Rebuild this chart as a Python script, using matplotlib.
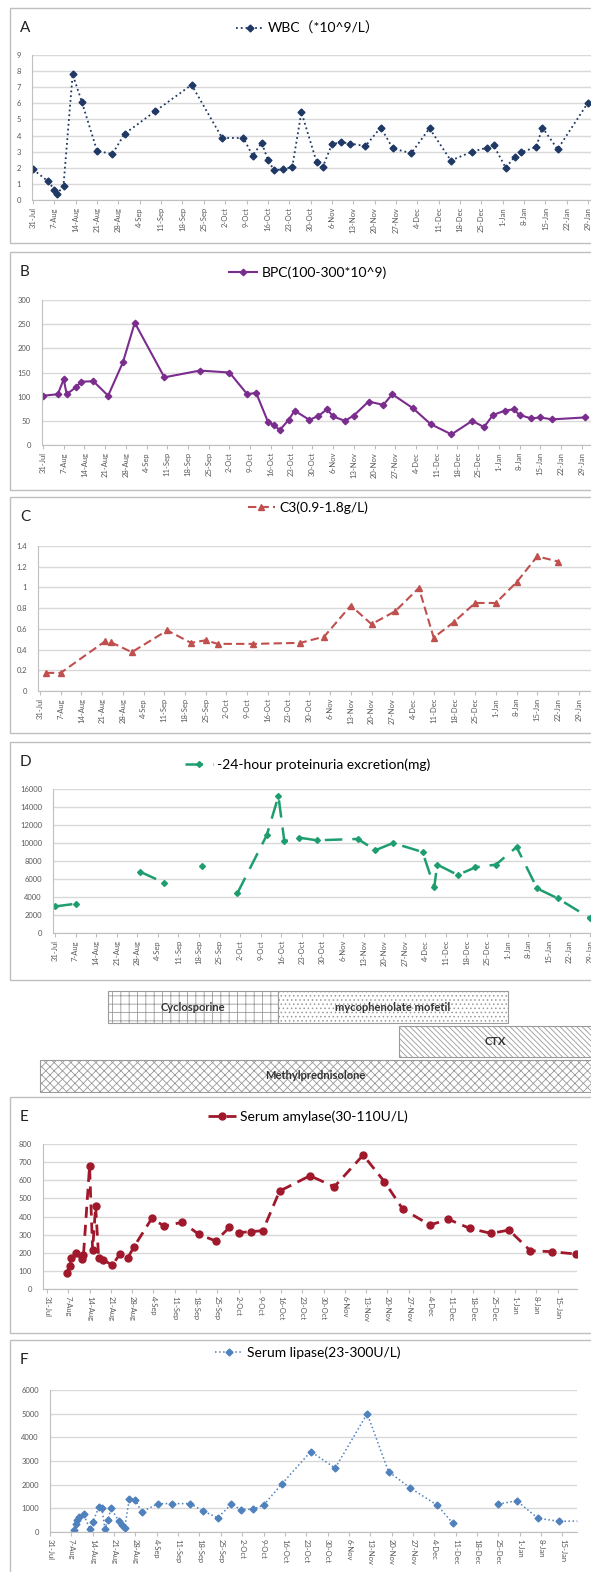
import numpy as np
import matplotlib
matplotlib.use("Agg")
import matplotlib.pyplot as plt
from matplotlib.patches import Rectangle
from matplotlib.ticker import MultipleLocator, FuncFormatter

plt.rcParams['font.family'] = ['Lato', 'Noto Sans CJK SC', 'DejaVu Sans']
plt.rcParams['hatch.linewidth'] = 0.6

W, H = 591, 1572

# ---- data (x = days since 31-Jul) ----
week_labels = ['31-Jul', '7-Aug', '14-Aug', '21-Aug', '28-Aug', '4-Sep', '11-Sep',
               '18-Sep', '25-Sep', '2-Oct', '9-Oct', '16-Oct', '23-Oct', '30-Oct',
               '6-Nov', '13-Nov', '20-Nov', '27-Nov', '4-Dec', '11-Dec', '18-Dec',
               '25-Dec', '1-Jan', '8-Jan', '15-Jan', '22-Jan', '29-Jan']

wbc_day = [0, 5, 7, 8, 10, 13, 16, 21, 26, 30, 40, 52, 62, 69, 72, 75, 77, 79, 82, 85,
           88, 93, 95, 98, 101, 104, 109, 114, 118, 124, 130, 137, 144, 149, 151, 155,
           158, 160, 165, 167, 172, 182]
wbc_val = [1.9, 1.15, 0.65, 0.38, 0.9, 7.8, 6.1, 3.05, 2.85, 4.1, 5.5, 7.15, 3.85, 3.85,
           2.75, 3.55, 2.5, 1.85, 1.9, 2.05, 5.45, 2.35, 2.05, 3.45, 3.6, 3.5, 3.35, 4.5,
           3.2, 2.9, 4.45, 2.45, 3.0, 3.25, 3.4, 2.0, 2.7, 2.95, 3.3, 4.5, 3.15, 6.05]

bpc_day = [0, 5, 7, 8, 11, 13, 17, 22, 27, 31, 41, 53, 63, 69, 72, 76, 78, 80, 83, 85,
           90, 93, 96, 98, 102, 105, 110, 115, 118, 125, 131, 138, 145, 149, 152, 156,
           159, 161, 165, 168, 172, 183]
bpc_val = [102, 105, 136, 105, 119, 131, 132, 102, 171, 253, 140, 154, 150, 105, 108, 48,
           41, 31, 52, 71, 52, 60, 74, 59, 50, 61, 90, 83, 105, 76, 43, 22, 50, 37, 62,
           71, 74, 62, 55, 57, 53, 57]

c3_day = [2, 7, 22, 24, 31, 43, 51, 56, 60, 72, 88, 96, 105, 112, 120, 128, 133, 140,
          147, 154, 161, 168, 175]
c3_val = [0.175, 0.175, 0.48, 0.47, 0.375, 0.585, 0.465, 0.49, 0.455, 0.455, 0.465,
          0.525, 0.825, 0.645, 0.77, 0.995, 0.515, 0.67, 0.85, 0.85, 1.05, 1.3, 1.25]

prot_day = [0, 7, 18, 29, 37, 44, 50, 56, 62, 72, 76, 78, 83, 89, 103, 109, 115, 125,
            129, 130, 137, 143, 150, 157, 164, 171, 182]
prot_val = [2950, 3250, np.nan, 6800, 5600, np.nan, 7500, np.nan, 4400, 10850, 15200,
            10200, 10600, 10300, 10450, 9200, 10000, 9000, 5100, 7600, 6450, 7300, 7600,
            9550, 4950, 3850, 1650]

amy_day = [6.5, 7.5, 8, 9.5, 11.5, 12, 14, 15, 16, 17, 18.5, 21.5, 24, 26.5, 28.5, 34.5,
           38.5, 44.5, 50, 55.5, 60, 63, 67, 71, 76.5, 86.5, 94.5, 104, 111, 117, 126,
           132, 139, 146, 152, 159, 166, 174]
amy_val = [90, 127, 169, 197, 164, 188, 678, 215, 458, 170, 160, 132, 193, 169, 230, 390,
           347, 368, 301, 265, 340, 311, 316, 322, 540, 625, 564, 739, 592, 441, 353, 385,
           335, 307, 325, 211, 206, 193]

lip_day = [8, 8.5, 9, 9.5, 11, 13, 14, 16, 17, 18, 19, 20, 22.5, 23.5, 24.5, 26, 28, 30,
           35.5, 40, 46, 50, 55, 59.5, 62.5, 66.5, 70, 76, 85.5, 93.5, 104, 111, 118, 127,
           132, 140, 147, 153, 160, 167, 174]
lip_val = [100, 320, 510, 650, 760, 140, 420, 1040, 1000, 140, 510, 1000, 480, 280, 170,
           1400, 1350, 850, 1200, 1200, 1200, 900, 600, 1180, 950, 960, 1130, 2030, 3400,
           2700, 5000, 2550, 1870, 1130, 380, np.nan, 1180, 1320, 580, 450, 470]

drug_names = ['Cyclosporine', 'mycophenolate mofetil', 'CTX', 'Methylprednisolone']
drug_start = [18, 76, 117, -5]
drug_end = [76, 154, 190, 190]
drug_rows = [0, 0, 1, 2]
drug_hatch = ['++', '....', '\\\\\\\\\\\\', 'xxxx']

fig = plt.figure(figsize=(W / 100, H / 100), dpi=100)


def frame(top, bottom, letter):
    fig.add_artist(Rectangle((10 / W, 1 - bottom / H), 1.0, (bottom - top) / H,
                             transform=fig.transFigure, fill=False, ec='#BFBFBF', lw=1))
    fig.text(20 / W, 1 - (top + 20) / H, letter, fontsize=11, va='center', color='#222222')


def make_axes(left, right, top, bottom, day0, ppd, ymax, ystep, nlab, rot):
    ax = fig.add_axes([left / W, 1 - bottom / H, (right - left) / W, (bottom - top) / H])
    ax.set_xlim((left - day0) / ppd, (right - day0) / ppd)
    ax.set_ylim(0, ymax)
    ax.yaxis.set_major_locator(MultipleLocator(ystep))
    ax.yaxis.set_major_formatter(FuncFormatter(lambda v, p: f'{v:g}'))
    ax.set_xticks([7 * i for i in range(nlab)])
    ax.set_xticklabels(week_labels[:nlab], rotation=rot, fontsize=5.5, color='#595959')
    ax.tick_params(axis='y', labelsize=5.5, labelcolor='#595959', length=0, pad=8)
    ax.tick_params(axis='x', length=3, color='#BFBFBF', pad=2)
    ax.grid(axis='y', color='#D9D9D9', lw=1.0)
    ax.set_axisbelow(True)
    ax.spines['top'].set_visible(False)
    ax.spines['right'].set_visible(False)
    ax.spines['left'].set_color('#BFBFBF')
    ax.spines['bottom'].set_color('#BFBFBF')
    return ax


def legend(ax, cy):
    ax.legend(loc='center', bbox_to_anchor=(308 / W, 1 - cy / H),
              bbox_transform=fig.transFigure, frameon=False, fontsize=10,
              handlelength=2.0, handletextpad=0.3)


# A - WBC
frame(8, 243, 'A')
ax = make_axes(32, 591, 55, 200, 33, 3.05, 9, 1, 27, 90)
ax.plot(wbc_day, wbc_val, ls=':', lw=1.3, color='#1F3864', marker='D', ms=3.5,
        label='WBC（*10^9/L）')
legend(ax, 28)

# B - BPC
frame(252, 490, 'B')
ax = make_axes(42, 591, 300, 445, 43, 2.96, 300, 50, 27, 90)
ax.plot(bpc_day, bpc_val, ls='-', lw=1.5, color='#7B2D8E', marker='D', ms=3.3,
        label='BPC(100-300*10^9)')
legend(ax, 273)

# C - C3
frame(497, 733, 'C')
ax = make_axes(38, 591, 546, 691, 40, 2.96, 1.4, 0.2, 27, 90)
ax.plot(c3_day, c3_val, ls=(0, (4, 2)), lw=1.5, color='#C0504D', marker='^', ms=5,
        label='C3(0.9-1.8g/L)')
legend(ax, 508)

# D - proteinuria
frame(742, 980, 'D')
ax = make_axes(53, 591, 789, 933, 55, 2.94, 16000, 2000, 27, 90)
ax.plot(prot_day, prot_val, ls=(0, (7, 4)), lw=1.8, color='#1E9E6E', marker='D', ms=3,
        label='-24-hour proteinuria excretion(mg)')
legend(ax, 765)

# treatment bars
axd = fig.add_axes([0, 1 - 1093 / H, 1, (1093 - 990) / H])
xmin, xmax = (0 - 55) / 2.94, (591 - 55) / 2.94
axd.set_xlim(xmin, xmax)
axd.set_ylim(3, 0)
axd.axis('off')
for name, s, e, r, h in zip(drug_names, drug_start, drug_end, drug_rows, drug_hatch):
    axd.barh(r + 0.5, e - s, left=s, height=0.92, color='white', edgecolor='#9A9A9A',
             hatch=h, lw=0.8)
    axd.text((s + min(e, xmax)) / 2, r + 0.5, name, ha='center', va='center',
             fontsize=8, fontweight='bold', color='#333333')

# E - amylase
frame(1097, 1333, 'E')
ax = make_axes(43, 577, 1144, 1289, 47, 3.04, 800, 100, 25, -90)
ax.plot(amy_day, amy_val, ls=(0, (4, 2.5)), lw=2, color='#A0182B', marker='o', ms=5,
        label='Serum amylase(30-110U/L)')
legend(ax, 1117)

# F - lipase
frame(1340, 1590, 'F')
ax = make_axes(50, 577, 1390, 1532, 50, 3.05, 6000, 1000, 25, -90)
ax.plot(lip_day, lip_val, ls=':', lw=1.1, color='#4F81BD', marker='D', ms=3.5,
        label='Serum lipase(23-300U/L)')
legend(ax, 1353)

fig.savefig('out.png', dpi=100)
